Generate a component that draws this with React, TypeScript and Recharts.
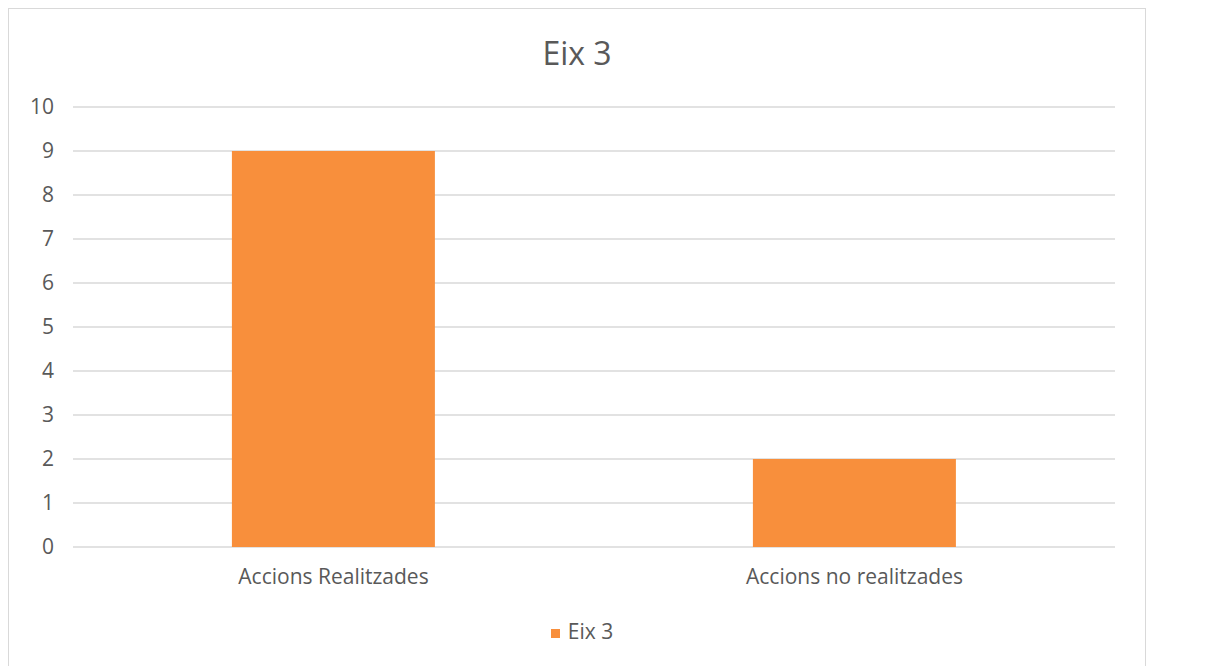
import React from 'react';
import { BarChart, Bar, XAxis, YAxis, CartesianGrid, Legend } from 'recharts';

const categories = ['Accions Realitzades', 'Accions no realitzades'];
const seriesName = 'Eix 3';
const seriesValues = [9, 2];
const yTicks = [0, 1, 2, 3, 4, 5, 6, 7, 8, 9, 10];
const boundaryTicks = [0, 1, 2];
const title = 'Eix 3';

const data = categories.map((c, i) => ({ name: c, value: seriesValues[i] }));

const TEXT = '#595959';
const GRID = '#d9d9d9';
const BAR = '#F88F3C';

export default function App() {
  return (
    <div
      style={{
        position: 'relative',
        width: 1136,
        height: 670,
        border: `1px solid ${GRID}`,
        fontFamily: '"Open Sans", sans-serif',
        background: '#fff',
      }}
    >
      <div
        style={{
          position: 'absolute',
          top: 24,
          left: 0,
          width: 1136,
          textAlign: 'center',
          fontSize: 32,
          lineHeight: '40px',
          color: TEXT,
        }}
      >
        {title}
      </div>
      <BarChart
        width={1136}
        height={657}
        data={data}
        margin={{ top: 98, right: 30, left: 20, bottom: 89 }}
        barCategoryGap="30.5%"
      >
        <CartesianGrid vertical={false} stroke={GRID} strokeWidth={1.5} />
        <XAxis
          xAxisId="bounds"
          type="number"
          domain={[0, 2]}
          ticks={boundaryTicks}
          height={0}
          tickFormatter={() => ''}
          axisLine={{ stroke: GRID, strokeWidth: 1.5 }}
          tickLine={{ stroke: GRID, strokeWidth: 1.5 }}
          tickSize={6}
        />
        <XAxis
          xAxisId="cat"
          dataKey="name"
          height={30}
          axisLine={false}
          tickLine={false}
          tickSize={6}
          tickMargin={16}
          tick={{ fill: TEXT, fontSize: 21 }}
        />
        <YAxis
          domain={[0, 10]}
          ticks={yTicks}
          width={44}
          axisLine={false}
          tickLine={false}
          tickSize={6}
          tickMargin={13}
          tick={{ fill: TEXT, fontSize: 21 }}
        />
        <Bar
          xAxisId="cat"
          dataKey="value"
          name={seriesName}
          fill={BAR}
          isAnimationActive={false}
        />
        <Legend
          layout="horizontal"
          verticalAlign="middle"
          align="center"
          iconType="square"
          iconSize={9}
          formatter={(v) => <span style={{ color: TEXT, paddingLeft: 4 }}>{v}</span>}
          wrapperStyle={{ top: 608, left: 10, width: 1136, fontSize: 21 }}
        />
      </BarChart>
    </div>
  );
}
